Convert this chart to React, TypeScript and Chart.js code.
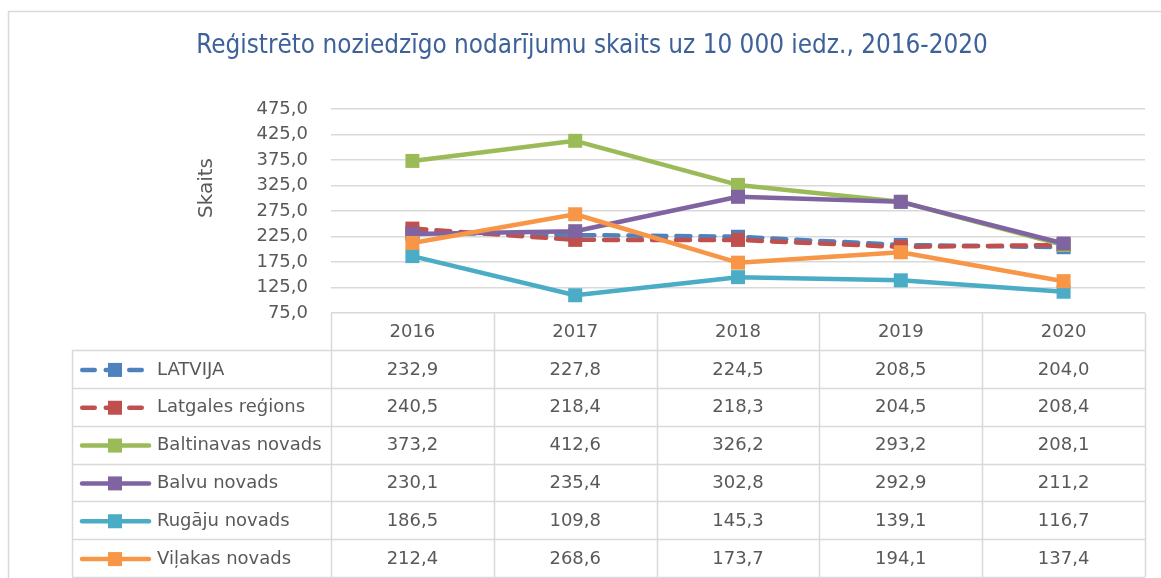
import React, { useEffect, useRef } from 'react';
import { Chart, registerables } from 'chart.js';

Chart.register(...registerables);

// ---------- data ----------
const years = ['2016', '2017', '2018', '2019', '2020'];
const seriesNames = [
  'LATVIJA',
  'Latgales reģions',
  'Baltinavas novads',
  'Balvu novads',
  'Rugāju novads',
  'Viļakas novads',
];
const latvija = [232.9, 227.8, 224.5, 208.5, 204.0];
const latgale = [240.5, 218.4, 218.3, 204.5, 208.4];
const baltinava = [373.2, 412.6, 326.2, 293.2, 208.1];
const balvi = [230.1, 235.4, 302.8, 292.9, 211.2];
const rugaji = [186.5, 109.8, 145.3, 139.1, 116.7];
const vilaka = [212.4, 268.6, 173.7, 194.1, 137.4];
const yMin = 75;
const yMax = 475;
const yStep = 50;
const titleText = 'Reģistrēto noziedzīgo nodarījumu skaits uz 10 000 iedz., 2016-2020';
const axisTitle = 'Skaits';

// ---------- styles ----------
const seriesValues = [latvija, latgale, baltinava, balvi, rugaji, vilaka];
const seriesColors = ['#4F81BD', '#C0504D', '#9BBB59', '#8064A2', '#4BACC6', '#F79646'];
const seriesDashed = [true, true, false, false, false, false];
const FONT = '"DejaVu Sans", sans-serif';
const TITLE_FONT = '"DejaVu Sans Condensed", "DejaVu Sans", sans-serif';
const TEXT = '#595959';
const GRID = '#D9D9D9';
const TITLE_COLOR = '#3D629A';
const DASH = [12.5, 11];

const fmt = (v: number) => v.toFixed(1).replace('.', ',');

const tablePlugin = {
  id: 'dataTable',
  beforeDraw(chart: any) {
    const ctx = chart.ctx as CanvasRenderingContext2D;
    ctx.save();
    ctx.fillStyle = '#ffffff';
    ctx.fillRect(0, 0, chart.width, chart.height);
    // outer frame
    ctx.strokeStyle = GRID;
    ctx.lineWidth = 1.5;
    ctx.beginPath();
    ctx.moveTo(8.5, chart.height);
    ctx.lineTo(8.5, 11.5);
    ctx.lineTo(chart.width, 11.5);
    ctx.stroke();
    // title
    ctx.fillStyle = TITLE_COLOR;
    ctx.font = '24px ' + TITLE_FONT;
    ctx.textAlign = 'center';
    ctx.textBaseline = 'middle';
    let size = 24;
    const target = 792;
    const w = ctx.measureText(titleText).width;
    size = Math.max(18, Math.min(28, (size * target) / w));
    ctx.font = size.toFixed(2) + 'px ' + TITLE_FONT;
    ctx.fillText(titleText, 592, 46.5);
    // axis title
    ctx.translate(207, 188);
    ctx.rotate(-Math.PI / 2);
    ctx.font = '20px ' + FONT;
    ctx.fillStyle = TEXT;
    ctx.fillText(axisTitle, 0, 0);
    ctx.restore();
  },
  afterDraw(chart: any) {
    const ctx = chart.ctx as CanvasRenderingContext2D;
    const area = chart.chartArea;
    const xs = chart.scales.x;
    const n = years.length;
    const colW = (area.right - area.left) / n;
    const headTop = area.bottom;
    const headBottom = headTop + 37;
    const tableLeft = 72;
    const rowH = (577 - headBottom) / seriesNames.length;

    ctx.save();
    ctx.strokeStyle = GRID;
    ctx.lineWidth = 1.5;
    ctx.beginPath();
    // vertical lines of the value columns
    for (let j = 0; j <= n; j++) {
      const x = Math.round(area.left + j * colW) + 0.5;
      ctx.moveTo(x, headTop);
      ctx.lineTo(x, 577);
    }
    // legend column left line
    ctx.moveTo(tableLeft + 0.5, headBottom);
    ctx.lineTo(tableLeft + 0.5, 577);
    // horizontal lines
    for (let i = 0; i <= seriesNames.length; i++) {
      const y = Math.round(headBottom + i * rowH) + 0.5;
      ctx.moveTo(tableLeft, y);
      ctx.lineTo(area.right, y);
    }
    ctx.stroke();

    ctx.fillStyle = TEXT;
    ctx.font = '18px ' + FONT;
    ctx.textBaseline = 'middle';
    ctx.textAlign = 'center';
    // header
    for (let j = 0; j < n; j++) {
      ctx.fillText(years[j], xs.getPixelForValue(j), (headTop + headBottom) / 2 + 1);
    }
    // rows
    for (let i = 0; i < seriesNames.length; i++) {
      const cy = headBottom + (i + 0.5) * rowH + 1;
      ctx.textAlign = 'center';
      ctx.fillStyle = TEXT;
      for (let j = 0; j < n; j++) {
        ctx.fillText(fmt(seriesValues[i][j]), xs.getPixelForValue(j), cy);
      }
      // legend key
      const c = seriesColors[i];
      ctx.save();
      ctx.strokeStyle = c;
      ctx.lineWidth = 4.5;
      ctx.lineCap = 'round';
      ctx.beginPath();
      if (seriesDashed[i]) {
        ctx.setLineDash(DASH);
        ctx.moveTo(82.25, cy);
        ctx.lineTo(148.75, cy);
      } else {
        ctx.moveTo(82, cy);
        ctx.lineTo(149, cy);
      }
      ctx.stroke();
      ctx.restore();
      ctx.fillStyle = c;
      ctx.fillRect(108, cy - 7, 14, 14);
      ctx.fillStyle = TEXT;
      ctx.textAlign = 'left';
      ctx.fillText(seriesNames[i], 157, cy);
    }
    ctx.restore();
  },
};

export default function App() {
  const ref = useRef<HTMLCanvasElement | null>(null);
  useEffect(() => {
    if (!ref.current) return;
    const datasets = seriesNames.map((name, i) => ({
      label: name,
      data: seriesValues[i],
      borderColor: seriesColors[i],
      backgroundColor: seriesColors[i],
      borderWidth: 4.5,
      borderDash: seriesDashed[i] ? [14, 10] : [],
      borderCapStyle: seriesDashed[i] ? 'round' : 'butt',
      borderJoinStyle: 'round',
      pointStyle: 'rect',
      pointRadius: 9.9,
      pointBorderWidth: 0,
      pointBackgroundColor: seriesColors[i],
      tension: 0,
      order: seriesNames.length - 1 - i,
    }));
    const chart = new Chart(ref.current, {
      type: 'line',
      data: { labels: years, datasets: datasets as any },
      plugins: [tablePlugin],
      options: {
        animation: false,
        responsive: true,
        maintainAspectRatio: false,
        layout: { padding: { left: 0, right: 16, top: 109, bottom: 265 } },
        plugins: {
          legend: { display: false },
          title: { display: false },
          tooltip: { enabled: false },
        },
        scales: {
          x: { type: 'category', display: false, offset: true },
          y: {
            min: yMin,
            max: yMax,
            ticks: {
              stepSize: yStep,
              padding: 23,
              color: TEXT,
              font: { family: FONT, size: 18 },
              callback: (v: any) => fmt(Number(v)),
            },
            grid: { color: GRID, lineWidth: 1.5, drawTicks: false },
            border: { display: false },
            afterFit: (s: any) => {
              s.width = 331;
            },
          },
        },
      } as any,
    });
    return () => chart.destroy();
  }, []);
  return (
    <div style={{ position: 'absolute', left: 0, top: 0, width: 1161, height: 578 }}>
      <canvas ref={ref} />
    </div>
  );
}
